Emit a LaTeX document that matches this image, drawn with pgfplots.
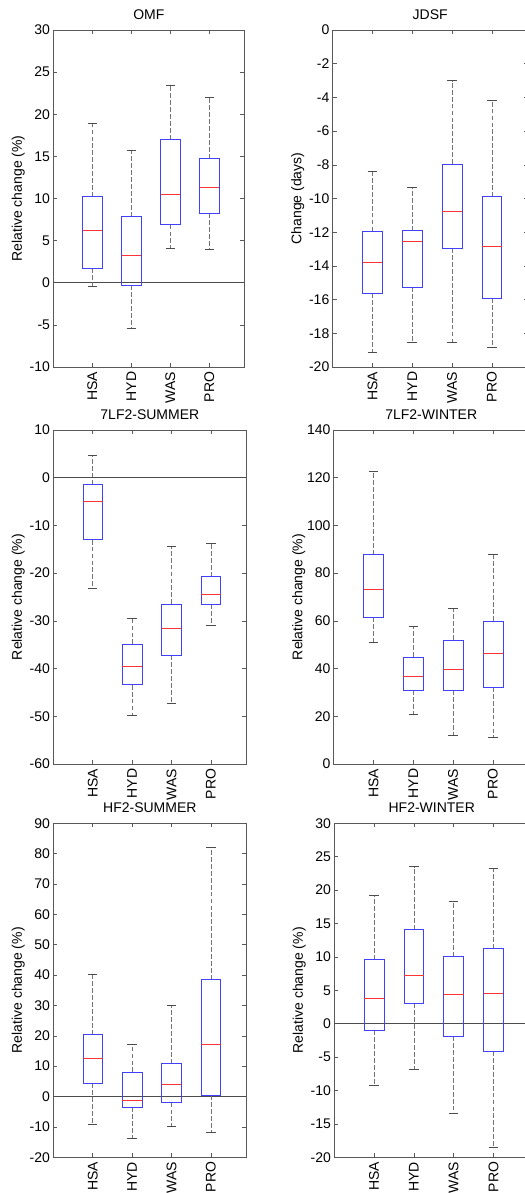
\documentclass[border=0pt]{standalone}
\usepackage{fontspec}
\setmainfont{Liberation Sans}
\usepackage{pgfplots}
\pgfplotsset{compat=1.18}
\usepgfplotslibrary{statistics}

\pgfplotsset{
  mbox/.style={
    scale only axis,
    xmin=0, xmax=4.9,
    xtick={1,2,3,4},
    xticklabels={HSA,HYD,WAS,PRO},
    tick align=inside,
    tick pos=both,
    ticklabel pos=left,
    axis line style={black!65},
    every tick/.style={black!65},
    major tick length=3pt,
    font=\fontsize{10.5}{12.6}\selectfont,
    /pgf/number format/assume math mode=true,
    xticklabel style={rotate=90, anchor=east},
    yticklabel style={xshift=1pt},
    every axis title/.style={at={(axis description cs:0.5,1)}, anchor=center, yshift=11.5pt},
    ylabel style={at={([xshift=-26.25pt]axis description cs:0,0.5)}, anchor=center},
    boxplot/draw direction=y,
    boxplot/box extend=0.5,
    boxplot/whisker extend=0.24,
    boxplot/every box/.style={draw=blue!75, line width=0.5pt},
    boxplot/every median/.style={draw=red!80, line width=0.5pt},
    boxplot/draw/lower whisker/.code={%
      \draw[black!55, dash pattern=on 3.6pt off 1.6pt]
        (boxplot whisker cs:\pgfplotsboxplotvalue{lower quartile},0.5) --
        (boxplot whisker cs:\pgfplotsboxplotvalue{lower whisker},0.5);
      \draw[black!70]
        (boxplot whisker cs:\pgfplotsboxplotvalue{lower whisker},0) --
        (boxplot whisker cs:\pgfplotsboxplotvalue{lower whisker},1);
    },
    boxplot/draw/upper whisker/.code={%
      \draw[black!55, dash pattern=on 3.6pt off 1.6pt]
        (boxplot whisker cs:\pgfplotsboxplotvalue{upper quartile},0.5) --
        (boxplot whisker cs:\pgfplotsboxplotvalue{upper whisker},0.5);
      \draw[black!70]
        (boxplot whisker cs:\pgfplotsboxplotvalue{upper whisker},0) --
        (boxplot whisker cs:\pgfplotsboxplotvalue{upper whisker},1);
    },
  },
  zeroline/.style={black!70, line width=0.5pt, no marks},
}

% lower whisker, lower quartile, median, upper quartile, upper whisker
\newcommand{\bx}[6]{\addplot[boxplot prepared={draw position=#1,
  lower whisker=#2, lower quartile=#3, median=#4,
  upper quartile=#5, upper whisker=#6}] coordinates {};}

\begin{document}
\begin{tikzpicture}
\path[use as bounding box] (0,0) rectangle (393.75pt,894.75pt);
\clip (0,0) rectangle (393.75pt,894.75pt);

% OMF
\begin{axis}[mbox, at={(40pt,619.5pt)}, anchor=south west,
  width=143.25pt, height=252.75pt,
  ymin=-10, ymax=30, ytick={-10,-5,...,30},
  title={OMF}, ylabel={Relative change (\%)}]
\addplot[zeroline] coordinates {(0,0) (4.9,0)};
\bx{1}{-0.4}{1.7}{6.2}{10.2}{18.9}
\bx{2}{-5.45}{-0.3}{3.25}{7.85}{15.7}
\bx{3}{4.15}{6.9}{10.5}{17.0}{23.4}
\bx{4}{3.95}{8.25}{11.3}{14.75}{22.0}
\end{axis}

% JDSF
\begin{axis}[mbox, at={(249.5pt,619.5pt)}, anchor=south west,
  width=146.25pt, height=252.75pt,
  ymin=-20, ymax=0, ytick={-20,-18,...,0},
  title={JDSF}, ylabel={Change (days)}]
\bx{1}{-19.15}{-15.63}{-13.81}{-11.95}{-8.41}
\bx{2}{-18.55}{-15.27}{-12.55}{-11.91}{-9.32}
\bx{3}{-18.55}{-12.96}{-10.78}{-7.95}{-3.0}
\bx{4}{-18.85}{-15.92}{-12.86}{-9.89}{-4.17}
\end{axis}

% 7LF2-SUMMER
\begin{axis}[mbox, at={(40pt,321.75pt)}, anchor=south west,
  width=144.75pt, height=250.5pt,
  ymin=-60, ymax=10, ytick={-60,-50,...,10},
  title={7LF2-SUMMER}, ylabel={Relative change (\%)}]
\addplot[zeroline] coordinates {(0,0) (4.9,0)};
\bx{1}{-23.2}{-13.0}{-4.9}{-1.4}{4.7}
\bx{2}{-49.7}{-43.4}{-39.5}{-34.9}{-29.5}
\bx{3}{-47.2}{-37.2}{-31.5}{-26.5}{-14.4}
\bx{4}{-30.9}{-26.5}{-24.4}{-20.7}{-13.8}
\end{axis}

% 7LF2-WINTER
\begin{axis}[mbox, at={(250.3pt,321.75pt)}, anchor=south west,
  width=146.25pt, height=250.5pt,
  ymin=0, ymax=140, ytick={0,20,...,140},
  title={7LF2-WINTER}, ylabel={Relative change (\%)}]
\bx{1}{51.0}{61.5}{73.3}{87.8}{122.7}
\bx{2}{20.8}{31.0}{36.8}{44.9}{57.6}
\bx{3}{12.0}{31.0}{39.6}{52.0}{65.2}
\bx{4}{11.0}{32.3}{46.4}{59.9}{87.8}
\end{axis}

% HF2-SUMMER
\begin{axis}[mbox, at={(40pt,26.8pt)}, anchor=south west,
  width=144.75pt, height=250.5pt,
  ymin=-20, ymax=90, ytick={-20,-10,...,90},
  title={HF2-SUMMER}, ylabel={Relative change (\%)}]
\addplot[zeroline] coordinates {(0,0) (4.9,0)};
\bx{1}{-9.1}{4.4}{12.7}{20.4}{40.3}
\bx{2}{-13.9}{-3.6}{-1.3}{8.0}{17.3}
\bx{3}{-9.8}{-2.0}{3.9}{10.85}{29.95}
\bx{4}{-11.8}{0.4}{17.2}{38.5}{82.1}
\end{axis}

% HF2-WINTER
\begin{axis}[mbox, at={(250.7pt,26.8pt)}, anchor=south west,
  width=146.25pt, height=250.5pt,
  ymin=-20, ymax=30, ytick={-20,-15,...,30},
  title={HF2-WINTER}, ylabel={Relative change (\%)}]
\addplot[zeroline] coordinates {(0,0) (4.9,0)};
\bx{1}{-9.2}{-1.0}{3.75}{9.6}{19.2}
\bx{2}{-6.8}{3.05}{7.25}{14.1}{23.5}
\bx{3}{-13.4}{-1.9}{4.4}{10.05}{18.3}
\bx{4}{-18.5}{-4.1}{4.55}{11.25}{23.2}
\end{axis}
\end{tikzpicture}
\end{document}
